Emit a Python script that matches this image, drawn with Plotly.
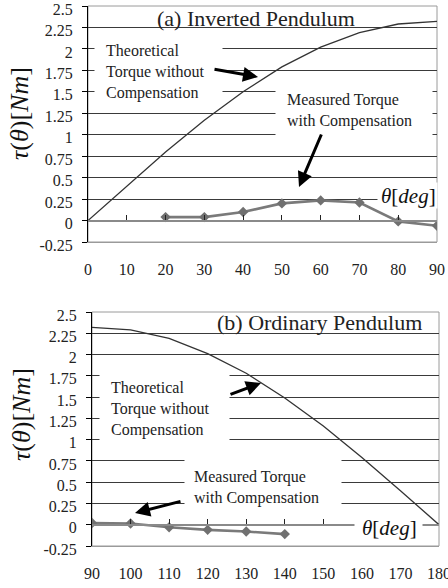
import plotly.graph_objects as go

# ---------------- data ----------------
theta_a = [0, 10, 20, 30, 40, 50, 60, 70, 80, 90]
theory_a = [0.0, 0.40, 0.80, 1.17, 1.50, 1.79, 2.02, 2.19, 2.29, 2.32]
meas_theta_a = [20, 30, 40, 50, 60, 70, 80, 90]
meas_a = [0.04, 0.04, 0.10, 0.20, 0.235, 0.21, -0.01, -0.06]

theta_b = [90, 100, 110, 120, 130, 140, 150, 160, 170, 180]
theory_b = [2.32, 2.29, 2.19, 2.01, 1.78, 1.49, 1.16, 0.79, 0.40, 0.0]
meas_theta_b = [90, 100, 110, 120, 130, 140]
meas_b = [0.02, 0.015, -0.03, -0.06, -0.08, -0.11]

y_ticks = [-0.25, 0, 0.25, 0.5, 0.75, 1, 1.25, 1.5, 1.75, 2, 2.25, 2.5]
y_tick_text = ["-0.25", "0", "0.25", "0.5", "0.75", "1", "1.25", "1.5", "1.75", "2", "2.25", "2.5"]
x_ticks_a = [0, 10, 20, 30, 40, 50, 60, 70, 80, 90]
x_ticks_b = [90, 100, 110, 120, 130, 140, 150, 160, 170, 180]

# ---------------- layout helpers ----------------
W, H = 448, 588
FONT = "'Liberation Serif', 'Times New Roman', Times, 'DejaVu Serif', serif"
YR = [-0.25, 2.5]


def px(x, y):
    return x / W, 1 - y / H


A = dict(x0=88, x1=437, y0=6, y1=242)
B = dict(x0=92, x1=439, y0=312, y1=546)


def dom(p):
    return [p["x0"] / W, p["x1"] / W], [1 - p["y1"] / H, 1 - p["y0"] / H]


xa_dom, ya_dom = dom(A)
xb_dom, yb_dom = dom(B)


def zero_pos(ydom):
    return ydom[0] + (0 - YR[0]) / (YR[1] - YR[0]) * (ydom[1] - ydom[0])


fig = go.Figure()

THEO = dict(color="#333333", width=1.3)
MEAS_LINE = dict(color="#7a7a7a", width=2.6)
MEAS_MARK = dict(symbol="diamond", size=8, color="#707070")

fig.add_trace(go.Scatter(x=theta_a, y=theory_a, mode="lines", line=THEO,
                         xaxis="x", yaxis="y", showlegend=False, hoverinfo="skip"))
fig.add_trace(go.Scatter(x=meas_theta_a, y=meas_a, mode="lines+markers", line=MEAS_LINE,
                         marker=MEAS_MARK, xaxis="x", yaxis="y", showlegend=False))
fig.add_trace(go.Scatter(x=theta_b, y=theory_b, mode="lines", line=THEO,
                         xaxis="x2", yaxis="y2", showlegend=False, hoverinfo="skip"))
fig.add_trace(go.Scatter(x=meas_theta_b, y=meas_b, mode="lines+markers", line=MEAS_LINE,
                         marker=MEAS_MARK, xaxis="x2", yaxis="y2", showlegend=False))
# invisible traces to register the zero-line axes
fig.add_trace(go.Scatter(x=[x_ticks_a[0]], y=[0], mode="markers", marker=dict(opacity=0),
                         xaxis="x3", yaxis="y", showlegend=False, hoverinfo="skip"))
fig.add_trace(go.Scatter(x=[x_ticks_b[0]], y=[0], mode="markers", marker=dict(opacity=0),
                         xaxis="x4", yaxis="y2", showlegend=False, hoverinfo="skip"))

tickfont = dict(family=FONT, size=16, color="#222222")


def yaxis(domain, anchor):
    return dict(domain=domain, anchor=anchor, range=YR, tickvals=y_ticks, ticktext=y_tick_text,
                showgrid=True, gridcolor="#3a3a3a", gridwidth=1, zeroline=False,
                showline=True, linecolor="#000000", linewidth=1,
                ticks="outside", ticklen=5, tickcolor="#000000", tickwidth=1,
                ticklabelstandoff=6, ticklabelshift=3, tickfont=tickfont, fixedrange=True,
                automargin=False, ticklabeloverflow="allow")


def xaxis(domain, anchor, ticks, rng):
    return dict(domain=domain, anchor=anchor, range=rng, tickvals=ticks,
                showgrid=False, zeroline=False, showline=True, linecolor="#9a9a9a", linewidth=1,
                ticks="", ticklabelstandoff=13, tickfont=tickfont, fixedrange=True,
                automargin=False, ticklabeloverflow="allow")


def zaxis(over, domain, pos, ticks, rng):
    return dict(overlaying=over, anchor="free", position=pos, domain=domain, range=rng,
                tickvals=ticks, showticklabels=False, showgrid=False, zeroline=False,
                showline=True, linecolor="#8a8a8a", linewidth=1.6,
                ticks="inside", ticklen=5, tickcolor="#222222", tickwidth=1, fixedrange=True,
                automargin=False)


fig.update_layout(
    width=W, height=H,
    margin=dict(l=0, r=0, t=0, b=0, pad=0),
    paper_bgcolor="white", plot_bgcolor="white",
    font=dict(family=FONT, color="#222222"),
    xaxis=xaxis(xa_dom, "y", x_ticks_a, [0, 90]),
    yaxis=yaxis(ya_dom, "x"),
    xaxis2=xaxis(xb_dom, "y2", x_ticks_b, [90, 180]),
    yaxis2=yaxis(yb_dom, "x2"),
    xaxis3=zaxis("x", xa_dom, zero_pos(ya_dom), x_ticks_a, [0, 90]),
    xaxis4=zaxis("x2", xb_dom, zero_pos(yb_dom), x_ticks_b, [90, 180]),
)

# plot borders (grey frame)
for xr, yr in (("x domain", "y domain"), ("x2 domain", "y2 domain")):
    fig.add_shape(type="rect", xref=xr, yref=yr, x0=0, x1=1, y0=0, y1=1,
                  line=dict(color="#9a9a9a", width=1), layer="below")

annots = []


def mask(x0, y0, x1, y1):
    cx, cy = px((x0 + x1) / 2, (y0 + y1) / 2)
    annots.append(dict(x=cx, y=cy, xref="paper", yref="paper", text=" ", showarrow=False,
                       width=x1 - x0, height=y1 - y0, bgcolor="white", borderpad=0,
                       xanchor="center", yanchor="middle", font=dict(size=2)))


def text(x, y, t, size=16, xanchor="left", align="left", color="#222222"):
    cx, cy = px(x, y)
    annots.append(dict(x=cx, y=cy, xref="paper", yref="paper", text=t, showarrow=False,
                       xanchor=xanchor, yanchor="middle", align=align,
                       font=dict(family=FONT, size=size, color=color)))


def arrow(hx, hy, tx, ty):
    cx, cy = px(hx, hy)
    annots.append(dict(x=cx, y=cy, xref="paper", yref="paper", text="", showarrow=True,
                       ax=tx - hx, ay=ty - hy, arrowhead=2, arrowsize=1.0, arrowwidth=3,
                       arrowcolor="#000000", standoff=0))


# ---- top chart (a)
mask(95, 40, 222, 102)
mask(276, 84, 432, 140)
mask(378, 183, 437, 208)
text(256, 18, "(a) Inverted Pendulum", size=22, xanchor="center", align="center")
text(104, 72, "Theoretical<br>Torque without<br>Compensation")
text(285, 111, "Measured Torque<br>with Compensation")
text(408, 196, "<i>θ</i>[<i>deg</i>]", size=21, xanchor="center", align="center", color="#111111")
arrow(258, 77, 213, 69)
arrow(299, 187, 322, 133)

# ---- bottom chart (b)
mask(100, 368, 229, 450)
mask(185, 455, 341, 510)
mask(355, 515, 422, 540)
text(319, 322, "(b) Ordinary Pendulum", size=22, xanchor="center", align="center")
text(109, 409, "Theoretical<br>Torque without<br>Compensation")
text(192, 487, "Measured Torque<br>with Compensation")
text(389, 528, "<i>θ</i>[<i>deg</i>]", size=21, xanchor="center", align="center", color="#111111")
arrow(261, 383, 229, 395)
arrow(135, 513, 182, 501)

# ---- y titles
for (yx, yy) in ((19, 114), (22, 415)):
    cx, cy = px(yx, yy)
    annots.append(dict(x=cx, y=cy, xref="paper", yref="paper",
                       text="<i>τ</i>(<i>θ</i>)[<i>Nm</i>]", showarrow=False, textangle=-90,
                       xanchor="center", yanchor="middle",
                       font=dict(family=FONT, size=26, color="#111111")))

fig.update_layout(annotations=annots)
fig.write_html("out.html", config={"displayModeBar": False},
               post_script="document.body.style.margin='0px';document.body.style.overflow='hidden';")
